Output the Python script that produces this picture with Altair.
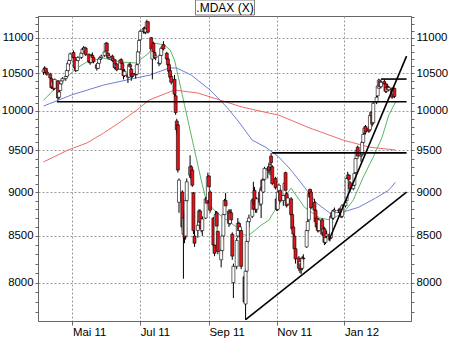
import altair as alt
import pandas as pd

# ---------------- data ----------------
# trading days: 2011-04-05 .. 2012-02-15 (holiday 2011-12-26 omitted)
dates = [d.strftime("%Y-%m-%d") for d in pd.bdate_range("2011-04-05", "2012-02-15")
         if d.strftime("%Y-%m-%d") != "2011-12-26"]

open_ = [
    10520, 10550, 10570, 10520,
    10490, 10430, 10320, 10380, 10300,
    10400, 10180, 10270, 10360, 10400,
    10430, 10460, 10540, 10630, 10680,
    10790, 10720, 10570, 10540, 10680,
    10720, 10780, 10840, 10800, 10850,
    10760, 10670, 10650, 10750, 10720,
    10620, 10570, 10640, 10700, 10720,
    10750, 10800, 10920, 10780, 10720,
    10740, 10680, 10690, 10580, 10630,
    10560, 10690, 10640, 10530, 10470,
    10480, 10450, 10620, 10560, 10500,
    10500, 10490, 10630, 10800, 10970,
    11090, 11140, 11080, 11130, 11230,
    11000, 10700, 10920, 10790, 10720,
    10650, 10640, 10750, 10850, 10900,
    10780, 10700, 10620, 10540, 10460,
    10420, 10200, 9870, 9820, 8880,
    9000, 8520, 8700, 8500, 8900,
    9200, 9300, 9260, 8990, 8500,
    8560, 8620, 8780, 8660, 8560,
    8700, 8920, 8900, 9190, 9000,
    8700, 8400, 8400, 8760, 8550,
    8240, 8340, 8500, 8740, 8900,
    8780, 8640, 8760, 8520, 8000,
    8170, 8500, 8640, 8560, 8560,
    8060, 7780, 8120, 8440, 8660,
    8720, 8920, 9020, 8900, 8800,
    9000, 8860, 9140, 9000, 9150,
    9260, 9300, 9300, 9430, 9300,
    9160, 8920, 8800, 9000, 9020,
    8900, 8960, 9230, 8980, 8860,
    8920, 8740, 8600, 8500, 8360,
    8260, 8150, 8200, 8150, 8260,
    8380, 8560, 8680, 9030, 9000,
    8880, 8790, 8700, 8640, 8560,
    8680, 8540, 8580, 8430, 8500,
    8520, 8480, 8760, 8700, 8780,
    8790, 8800, 8760, 8720, 8840,
    8900, 9170, 9200, 9110, 9040,
    9080, 9230, 9400, 9540, 9430,
    9450, 9600, 9720, 9800, 9780,
    9760, 9940, 9980, 9850, 10110,
    10200, 10300, 10400, 10320, 10390,
    10360, 10260, 10320, 10280, 10300,
    10220, 10300,
]
high = [
    10580, 10600, 10580, 10560,
    10510, 10450, 10420, 10390, 10430,
    10410, 10270, 10380, 10420, 10450,
    10480, 10560, 10650, 10700, 10790,
    10820, 10740, 10620, 10700, 10740,
    10800, 10860, 10880, 10870, 10870,
    10780, 10720, 10770, 10790, 10740,
    10640, 10660, 10720, 10740, 10760,
    10820, 10930, 10940, 10800, 10770,
    10760, 10720, 10700, 10650, 10640,
    10700, 10710, 10660, 10550, 10560,
    10500, 10640, 10650, 10580, 10530,
    10530, 10640, 10820, 10980, 11110,
    11150, 11160, 11150, 11260, 11240,
    11010, 10870, 10940, 10820, 10760,
    10680, 10770, 10860, 10890, 10950,
    10800, 10720, 10640, 10580, 10490,
    10480, 10220, 9900, 9840, 9160,
    9020, 8800, 8760, 8930, 9160,
    9440, 9320, 9280, 9000, 8560,
    8680, 8800, 8800, 8700, 8720,
    8940, 8940, 9230, 9200, 9020,
    8710, 8430, 8780, 8780, 8560,
    8360, 8520, 8760, 8920, 8990,
    8800, 8800, 8800, 8540, 8200,
    8480, 8700, 8660, 8640, 8580,
    8080, 8150, 8470, 8680, 8740,
    8920, 9120, 9060, 8920, 8940,
    9050, 9060, 9160, 9160, 9300,
    9300, 9350, 9340, 9470, 9320,
    9180, 8940, 9040, 9100, 9040,
    8980, 9120, 9240, 9000, 8960,
    8940, 8760, 8680, 8520, 8400,
    8280, 8250, 8210, 8280, 8300,
    8580, 8700, 9000, 9040, 9030,
    8920, 8800, 8720, 8680, 8700,
    8700, 8620, 8600, 8500, 8560,
    8540, 8740, 8790, 8800, 8820,
    8810, 8820, 8780, 8860, 8900,
    9180, 9240, 9210, 9130, 9120,
    9240, 9420, 9520, 9560, 9470,
    9620, 9720, 9800, 9820, 9800,
    9960, 10000, 10000, 10120, 10200,
    10350, 10430, 10420, 10400, 10420,
    10380, 10340, 10360, 10330, 10310,
    10300, 10310,
]
low = [
    10480, 10510, 10490, 10470,
    10420, 10290, 10300, 10270, 10280,
    10140, 10160, 10260, 10340, 10380,
    10400, 10440, 10520, 10600, 10660,
    10700, 10560, 10520, 10530, 10650,
    10700, 10760, 10790, 10780, 10740,
    10640, 10620, 10640, 10700, 10640,
    10540, 10560, 10620, 10660, 10690,
    10730, 10790, 10790, 10700, 10690,
    10660, 10630, 10560, 10560, 10530,
    10550, 10620, 10530, 10420, 10450,
    10370, 10440, 10560, 10400, 10440,
    10430, 10480, 10620, 10790, 10960,
    11060, 11060, 11050, 11120, 11060,
    10820, 10420, 10780, 10700, 10680,
    10600, 10620, 10740, 10800, 10820,
    10680, 10600, 10500, 10430, 10350,
    10180, 9950, 9700, 9230, 8760,
    8560, 8040, 8420, 8460, 8880,
    9170, 9150, 9060, 8520, 8380,
    8480, 8580, 8620, 8540, 8500,
    8690, 8840, 8880, 9020, 8760,
    8380, 8280, 8390, 8590, 8300,
    8160, 8300, 8460, 8720, 8820,
    8600, 8620, 8640, 8240, 7840,
    8140, 8480, 8540, 8480, 8140,
    7780, 7620, 8100, 8420, 8600,
    8700, 8780, 8840, 8760, 8760,
    8840, 8700, 9030, 8990, 9120,
    9160, 9220, 9200, 9320, 9080,
    9030, 8780, 8780, 8860, 8880,
    8840, 8940, 8980, 8820, 8850,
    8720, 8560, 8500, 8330, 8200,
    8120, 8100, 8090, 8130, 8200,
    8370, 8530, 8660, 8920, 8800,
    8760, 8640, 8580, 8540, 8540,
    8500, 8500, 8400, 8410, 8460,
    8440, 8470, 8680, 8680, 8740,
    8760, 8740, 8700, 8700, 8820,
    8890, 9130, 9120, 9000, 9020,
    9060, 9220, 9380, 9400, 9360,
    9440, 9580, 9700, 9700, 9720,
    9740, 9880, 9800, 9840, 10090,
    10180, 10290, 10300, 10300, 10340,
    10240, 10240, 10260, 10260, 10160,
    10200, 10170,
]
close = [
    10550, 10570, 10510, 10490,
    10440, 10310, 10390, 10290, 10420,
    10170, 10250, 10360, 10400, 10430,
    10460, 10540, 10640, 10680, 10770,
    10720, 10580, 10540, 10680, 10720,
    10780, 10840, 10830, 10860, 10760,
    10660, 10650, 10750, 10720, 10660,
    10570, 10640, 10700, 10720, 10740,
    10800, 10920, 10810, 10720, 10740,
    10680, 10700, 10580, 10630, 10550,
    10680, 10640, 10550, 10470, 10530,
    10450, 10620, 10590, 10470, 10460,
    10480, 10620, 10800, 10960, 11090,
    11130, 11080, 11130, 11230, 11080,
    10840, 10850, 10800, 10720, 10740,
    10640, 10750, 10850, 10870, 10840,
    10700, 10620, 10530, 10450, 10380,
    10220, 9980, 9760, 9260, 9140,
    8600, 8700, 8480, 8900, 9120,
    9300, 9170, 9080, 8560, 8420,
    8620, 8780, 8650, 8580, 8690,
    8920, 8870, 9180, 9060, 8790,
    8400, 8310, 8740, 8610, 8330,
    8340, 8500, 8740, 8900, 8840,
    8640, 8760, 8680, 8280, 8170,
    8450, 8640, 8560, 8600, 8170,
    7800, 8120, 8440, 8660, 8700,
    8900, 8800, 8860, 8800, 8920,
    8880, 9020, 9050, 9140, 9280,
    9280, 9260, 9320, 9350, 9100,
    9050, 8800, 9000, 9080, 8900,
    8960, 9100, 9020, 8840, 8930,
    8740, 8580, 8520, 8360, 8250,
    8150, 8220, 8140, 8260, 8250,
    8560, 8660, 8980, 8940, 8820,
    8790, 8660, 8600, 8560, 8680,
    8520, 8580, 8430, 8480, 8520,
    8470, 8720, 8700, 8780, 8790,
    8780, 8760, 8720, 8840, 8880,
    9160, 9200, 9150, 9040, 9080,
    9220, 9400, 9500, 9430, 9440,
    9600, 9700, 9780, 9730, 9740,
    9940, 9980, 9830, 10100, 10180,
    10330, 10410, 10320, 10380, 10360,
    10260, 10310, 10280, 10310, 10180,
    10280, 10190,
]

# short moving average (green)
green_dates = ["2011-04-05", "2011-04-20", "2011-05-05", "2011-05-14", "2011-05-29",
               "2011-06-13", "2011-06-27", "2011-07-09", "2011-07-14", "2011-07-23",
               "2011-07-28", "2011-08-01", "2011-08-05", "2011-08-10", "2011-08-14",
               "2011-08-19", "2011-08-25", "2011-08-29", "2011-09-04", "2011-09-11",
               "2011-09-20", "2011-09-26", "2011-10-03", "2011-10-07", "2011-10-18",
               "2011-10-25", "2011-11-01", "2011-11-14", "2011-11-26", "2011-12-10",
               "2011-12-19", "2011-12-25", "2011-12-31", "2012-01-09", "2012-01-18",
               "2012-01-27", "2012-02-04", "2012-02-10", "2012-02-16"]
green_vals = [10140, 10370, 10575, 10658, 10713, 10658, 10645, 10783, 10924, 10896,
              10825, 10687, 10412, 10075, 9818, 9505, 9140, 8928, 8812, 8734,
              8653, 8597, 8508, 8508, 8620, 8676, 8824, 9045, 8824, 8700,
              8680, 8720, 8756, 8905, 9175, 9418, 9666, 9946, 10116]

# medium moving average (blue)
blue_dates = ["2011-04-05", "2011-04-30", "2011-05-29", "2011-06-27", "2011-07-10",
              "2011-07-27", "2011-08-03", "2011-08-16", "2011-09-02", "2011-09-17",
              "2011-09-28", "2011-10-10", "2011-10-22", "2011-11-03", "2011-11-14",
              "2011-11-26", "2011-12-07", "2011-12-19", "2011-12-31", "2012-01-14",
              "2012-01-29", "2012-02-10", "2012-02-16"]
blue_vals = [10064, 10210, 10343, 10438, 10479, 10575, 10575, 10479, 10277, 10051,
             9857, 9628, 9540, 9418, 9259, 9057, 8871, 8756, 8768, 8824,
             8928, 9022, 9116]

# long moving average (red)
red_dates = ["2011-04-05", "2011-04-27", "2011-05-14", "2011-05-29", "2011-06-13",
             "2011-06-28", "2011-07-09", "2011-08-01", "2011-08-22", "2011-09-11",
             "2011-10-01", "2011-10-25", "2011-11-03", "2011-12-01", "2011-12-31",
             "2012-01-24", "2012-02-16"]
red_vals = [9359, 9505, 9592, 9717, 9857, 10012, 10143, 10277, 10236, 10143,
            10051, 9973, 9946, 9780, 9628, 9540, 9505]

# drawn trend lines (start / end points)
trend_ids = ["a", "a", "b", "b", "c", "c", "d", "d", "e", "e"]
trend_dates = ["2011-04-17", "2012-02-26", "2011-10-28", "2012-02-26", "2012-02-03",
               "2012-02-26", "2011-12-18", "2012-02-26", "2011-10-04", "2012-02-26"]
trend_vals = [10120, 10120, 9470, 9470, 10424, 10424, 8450, 10740, 7623, 9000]

x_ticks = ["2011-05-01", "2011-07-01", "2011-09-01", "2011-11-01", "2012-01-01"]
y_ticks = list(range(7700, 11301, 100))

assert len(dates) == len(open_) == len(high) == len(low) == len(close)

candles = pd.DataFrame({"date": dates, "open": open_, "high": high, "low": low, "close": close})
green = pd.DataFrame({"date": green_dates, "v": green_vals})
blue = pd.DataFrame({"date": blue_dates, "v": blue_vals})
red = pd.DataFrame({"date": red_dates, "v": red_vals})
trend = pd.DataFrame({"id": trend_ids, "date": trend_dates, "v": trend_vals})

# ---------------- scales / axes ----------------
FONT = "Liberation Sans"
xscale = alt.Scale(type="utc", domain=[
    alt.DateTime(year=2011, month=4, date=4, hours=12, utc=True),
    alt.DateTime(year=2012, month=2, date=25, hours=12, utc=True)])
yscale = alt.Scale(type="log", domain=[7610, 11315], nice=False)

def dt(s):
    y, m, d = (int(p) for p in s.split("-"))
    return alt.DateTime(year=y, month=m, date=d, utc=True)

xaxis = alt.Axis(
    orient="bottom",
    values=[dt(s) for s in x_ticks],
    labelExpr="['Jan','Feb','Mär','Apr','Mai','Jun','Jul','Aug','Sep','Okt','Nov','Dez'][utcmonth(datum.value)] + ' ' + utcFormat(datum.value, '%y')",
    labelAlign="left", labelBaseline="top", labelPadding=1, tickSize=4, grid=True,
    gridDash=[2, 2], gridColor="#9a9a9a", gridWidth=1,
    domainColor="#666666", tickColor="#666666", labelColor="black",
    labelFont=FONT, labelFontSize=11.4, title=None,
    labelOverlap=False, labelFlush=False)

major = "datum.value % 500 === 0"
yaxis_left = alt.Axis(
    orient="left", values=y_ticks, format="d",
    labelExpr=f"{major} ? datum.label : ''",
    tickSize=3, labelPadding=2, grid=True,
    gridOpacity={"condition": {"test": major, "value": 1}, "value": 0},
    gridDash=[2, 2], gridColor="#9a9a9a",
    domainColor="#666666", tickColor="#666666", labelColor="black",
    labelFont=FONT, labelFontSize=11.4, title=None, labelOverlap=False, labelFlush=False)
yaxis_right = alt.Axis(
    orient="right", values=y_ticks, format="d",
    labelExpr=f"{major} ? datum.label : ''",
    tickSize=3, labelPadding=2, grid=False,
    domainColor="#666666", tickColor="#666666", labelColor="black",
    labelFont=FONT, labelFontSize=11.4, title=None, labelOverlap=False, labelFlush=False)

def X(axis=None):
    return alt.X("date:T", scale=xscale, axis=axis)

def ma_layer(df, color):
    return alt.Chart(df).mark_line(color=color, strokeWidth=1, clip=True).encode(
        x=X(), y=alt.Y("v:Q", scale=yscale, axis=None))

green_l = ma_layer(green, "#5cb56a")
blue_l = ma_layer(blue, "#6f7fd2")
red_l = ma_layer(red, "#f26a6a")

wicks = alt.Chart(candles).mark_rule(color="black", strokeWidth=1, clip=True).encode(
    x=X(xaxis),
    y=alt.Y("low:Q", scale=yscale, axis=yaxis_left),
    y2="high:Q")

bodies = alt.Chart(candles).mark_bar(size=3, stroke="black", strokeWidth=0.6, clip=True).encode(
    x=X(),
    y=alt.Y("open:Q", scale=yscale, axis=yaxis_right),
    y2="close:Q",
    fill=alt.condition("datum.open <= datum.close", alt.value("white"), alt.value("#e3141a")))

trend_l = alt.Chart(trend).mark_line(color="black", strokeWidth=1.6, clip=True).encode(
    x=X(), y=alt.Y("v:Q", scale=yscale, axis=None), detail="id:N")

title_df = pd.DataFrame({"t": [".MDAX (X)"]})
title_box = alt.Chart(title_df).mark_rect(fill="white", stroke="#808080", strokeWidth=1).encode(
    x=alt.value(157.5), x2=alt.value(216.5), y=alt.value(-16), y2=alt.value(-1))
title_txt = alt.Chart(title_df).mark_text(font=FONT, fontSize=12, color="black",
                                          align="center", baseline="middle").encode(
    x=alt.value(187), y=alt.value(-8), text="t:N")

chart = alt.layer(
    green_l, blue_l, red_l, wicks, bodies, trend_l, title_box, title_txt
).resolve_axis(x="independent", y="independent").properties(
    width=373, height=305,
    autosize=alt.AutoSizeParams(type="none"),
    padding={"left": 38, "top": 16, "right": 39, "bottom": 17},
    background="white",
).configure_view(stroke="#666666", strokeWidth=1)

chart.save("out.html", embed_options={"renderer": "svg", "actions": False})
